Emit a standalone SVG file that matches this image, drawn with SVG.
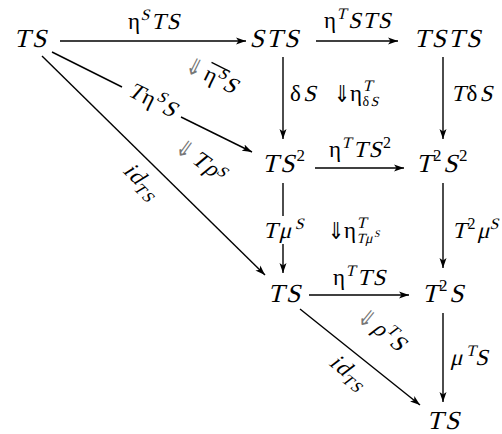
<svg xmlns="http://www.w3.org/2000/svg" width="502" height="434" viewBox="0 0 502 434">
<style>
text{font-family:'Liberation Serif',serif;fill:#000}
.n{font-size:26px;letter-spacing:2px}
.m{font-size:23px;letter-spacing:1.5px}
.s16{font-size:16px}
.s14{font-size:14px}
.s10{font-size:10px}
.dar{font-family:'DejaVu Sans',sans-serif;font-size:26px}
.g{fill:#777}
.c line{stroke:#000;stroke-width:1.4;fill:none}
.c line.h{marker-end:url(#ah)}
</style>
<defs>
<marker id="ah" markerUnits="userSpaceOnUse" markerWidth="11" markerHeight="8" refX="10" refY="4" orient="auto">
<path d="M0,0.5 L10,4 L0,7.5 L2.5,4 z" fill="#000"/>
</marker>
</defs>
<rect width="502" height="434" fill="#fff"/>
<g id="connectors" class="c">
<line class="h" x1="60" y1="41" x2="246" y2="41"/>
<line class="h" x1="316" y1="41" x2="398" y2="41"/>
<line class="h" x1="283" y1="57" x2="283" y2="139"/>
<line class="h" x1="443" y1="57" x2="443" y2="139"/>
<line class="h" x1="315" y1="168" x2="404" y2="168" style="stroke-width:1.7"/>
<line x1="283" y1="183" x2="283" y2="216"/>
<line class="h" x1="283" y1="244" x2="283" y2="273"/>
<line class="h" x1="443" y1="183" x2="443" y2="268"/>
<line class="h" x1="309" y1="295" x2="409" y2="295"/>
<line class="h" x1="443" y1="313" x2="443" y2="402"/>
<line class="h" x1="42" y1="56" x2="265" y2="275"/>
<line x1="52" y1="52" x2="122" y2="87"/>
<line class="h" x1="181" y1="117" x2="252" y2="152"/>
<line class="h" x1="300" y1="309" x2="420" y2="405"/>
</g>
<g id="labels">
<g transform="translate(128,29)"><text class="m">η</text><text class="s16" transform="translate(12.5,-9) skewX(-14)">S</text><text class="m" transform="translate(23,0) skewX(-14)">TS</text></g>
<g transform="translate(324,28)"><text class="m">η</text><text class="s16" transform="translate(12.5,-9) skewX(-14)">T</text><text class="m" transform="translate(24,0) skewX(-14)">STS</text></g>
<g transform="translate(290,101)"><text class="m">δ</text><text class="m" transform="translate(13,0) skewX(-14)">S</text></g>
<g transform="translate(451,101)"><text class="m" transform="skewX(-14)">T</text><text class="m" x="15.5">δ</text><text class="m" transform="translate(28.5,0) skewX(-14)">S</text></g>
<g transform="translate(329,157)"><text class="m">η</text><text class="s16" transform="translate(12.5,-9) skewX(-14)">T</text><text class="m" transform="translate(24,0) skewX(-14)">TS</text><text class="s16" x="54" y="-9">2</text></g>
<g transform="translate(283,238)"><text class="m" text-anchor="middle" transform="skewX(-14)">Tμ<tspan class="s16" dy="-9">S</tspan></text></g>
<g transform="translate(452,238)"><text class="m" transform="skewX(-14)">T</text><text class="s16" x="15.5" y="-9">2</text><text class="m" transform="translate(25,0) skewX(-14)">μ</text><text class="s16" transform="translate(37.5,-9) skewX(-14)">S</text></g>
<g transform="translate(333,285)"><text class="m">η</text><text class="s16" transform="translate(12.5,-9) skewX(-14)">T</text><text class="m" transform="translate(24,0) skewX(-14)">TS</text></g>
<g transform="translate(450,365)"><text class="m" transform="skewX(-14)">μ<tspan class="s16" dy="-9">T</tspan><tspan dy="9">S</tspan></text></g>
<g transform="translate(152,101) rotate(26.6) translate(-25.4,6)"><text class="m" transform="skewX(-14)">T</text><text class="m" x="15.5">η</text><text class="s16" transform="translate(28,-9) skewX(-14)">S</text><text class="m" transform="translate(38,0) skewX(-14)">S</text></g>
<g transform="translate(141,183) rotate(44.5)"><text class="m" text-anchor="middle" transform="translate(0,5) skewX(-14)">id<tspan class="s16" dy="5">TS</tspan></text></g>
<g transform="translate(348,374) rotate(38.7)"><text class="m" text-anchor="middle" transform="translate(0,5) skewX(-14)">id<tspan class="s16" dy="5">TS</tspan></text></g>
</g>
<g id="cells">
<g transform="translate(337,101)"><text class="dar" transform="translate(-3,1) scale(0.75,0.9)">⇓</text><text class="m" x="13">η</text><text class="s16" transform="translate(25.5,-10) skewX(-14)">T</text><text class="s14" x="25.5" y="5">δ</text><text class="s14" transform="translate(33.5,5) skewX(-14)">S</text></g>
<g transform="translate(331,238)"><text class="dar" transform="translate(-3,1) scale(0.75,0.9)">⇓</text><text class="m" x="13">η</text><text class="s16" transform="translate(25.5,-10) skewX(-14)">T</text><text class="s14" transform="translate(25.5,5) skewX(-14)">Tμ</text><text class="s10" transform="translate(43,-1) skewX(-14)">S</text></g>
<g transform="translate(216,78) rotate(26.6)"><text class="dar g" transform="translate(-32,8) scale(0.75,0.9)">⇓</text><text class="m" x="-12" y="7">η</text><text class="s16" transform="translate(0,-2) skewX(-14)">S</text><text class="m" transform="translate(9.5,7) skewX(-14)">S</text><line x1="-11" y1="-12" x2="9" y2="-12" stroke="#000" stroke-width="1.3"/></g>
<g transform="translate(204,163) rotate(36)"><text class="dar g" transform="translate(-32,8) scale(0.75,0.9)">⇓</text><text class="m" transform="translate(-12,7) skewX(-14)">Tρ</text><text class="s16" transform="translate(15,1) skewX(-14)">S</text></g>
<g transform="translate(384,332) rotate(38.7)"><text class="dar g" transform="translate(-30,8) scale(0.75,0.9)">⇓</text><text class="m" transform="translate(-11,7) skewX(-14)">ρ</text><text class="s16" transform="translate(1,-2) skewX(-14)">T</text><text class="m" transform="translate(11,7) skewX(-14)">S</text></g>
</g>
<g id="n_TS_a" transform="translate(31,47)"><text class="n" text-anchor="middle" transform="skewX(-14)">TS</text></g>
<g id="n_STS" transform="translate(275,47)"><text class="n" text-anchor="middle" transform="skewX(-14)">STS</text></g>
<g id="n_TSTS" transform="translate(448,47)"><text class="n" text-anchor="middle" transform="skewX(-14)">TSTS</text></g>
<g id="n_TS2" transform="translate(262,172)"><text class="n" transform="skewX(-14)">TS</text><text x="34.5" y="-11" style="font-size:17px">2</text></g>
<g id="n_T2S2" transform="translate(416,172)"><text class="n" transform="skewX(-14)">T</text><text x="17" y="-11" style="font-size:17px">2</text><text class="n" transform="translate(27,0) skewX(-14)">S</text><text x="43" y="-11" style="font-size:17px">2</text></g>
<g id="n_TS_b" transform="translate(285,302)"><text class="n" text-anchor="middle" transform="skewX(-14)">TS</text></g>
<g id="n_T2S" transform="translate(422,302)"><text class="n" transform="skewX(-14)">T</text><text x="17" y="-11" style="font-size:17px">2</text><text class="n" transform="translate(27,0) skewX(-14)">S</text></g>
<g id="n_TS_c" transform="translate(444,429)"><text class="n" text-anchor="middle" transform="skewX(-14)">TS</text></g>
</svg>
